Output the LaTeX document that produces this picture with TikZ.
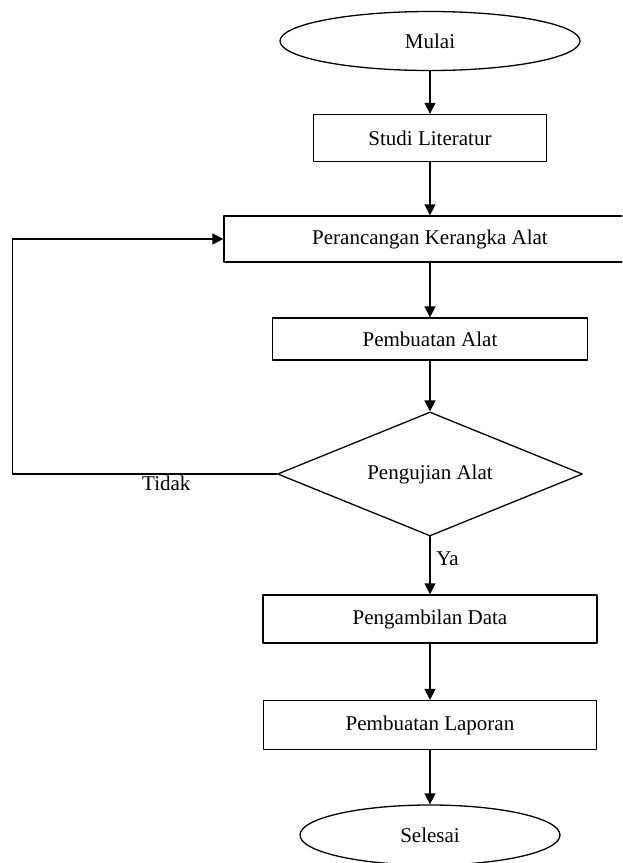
\documentclass[tikz,border=0pt]{standalone}
\usepackage{fontspec}
\setmainfont{Liberation Serif}
\usetikzlibrary{shapes.geometric,arrows.meta}
\begin{document}
\begin{tikzpicture}[font=\fontsize{21}{25}\selectfont, line join=round, line cap=round, >={Triangle[length=11pt,width=11pt]}, x=1pt, y=-1pt, line width=1.3pt,
		kotak/.style={draw,rectangle,inner sep=0,minimum height=47},
		oval/.style={draw,ellipse,inner sep=0,minimum height=59},
		belah/.style={draw,diamond,aspect=2.46,inner sep=0,minimum width=305,minimum height=124}]
				\clip(0,0)rectangle(622,863);
				\path(430,41)node(mulai)[oval,minimum width=300]{Mulai}
				++(0,97)node[kotak,minimum width=233](studi){Studi Literatur}
				++(0,101)node[kotak,minimum width=412,minimum height=46](rancang){Perancangan Kerangka Alat}
				++(0,100)node[kotak,minimum width=315,minimum height=42](buat){Pembuatan Alat}
				++(0,135)node[belah](uji){Pengujian Alat}
				++(0,145)node[kotak,minimum width=334,minimum height=48](ambil){Pengambilan Data}
				++(0,106)node[kotak,minimum width=333,minimum height=49](lapor){Pembuatan Laporan}
				++(0,110)node(selesai)[oval,minimum width=260,minimum height=60]{Selesai}
				;
				\path
				(uji.south)++(17.5,22)node(ya){Ya}
				(uji.west)++(-110.5,9)node(tidak){Tidak}
				;
				\draw[->](mulai)--(studi);
				\draw[->](studi)--(rancang);
				\draw[->](rancang)--(buat);
				\draw[->](buat)--(uji);
				\draw[->](uji)--(ambil);
				\draw[->](ambil)--(lapor);
				\draw[->](lapor)--(selesai);
				\draw[->](uji.west)--++(-264.5,0)|-(rancang.west);
		\end{tikzpicture}
\end{document}
